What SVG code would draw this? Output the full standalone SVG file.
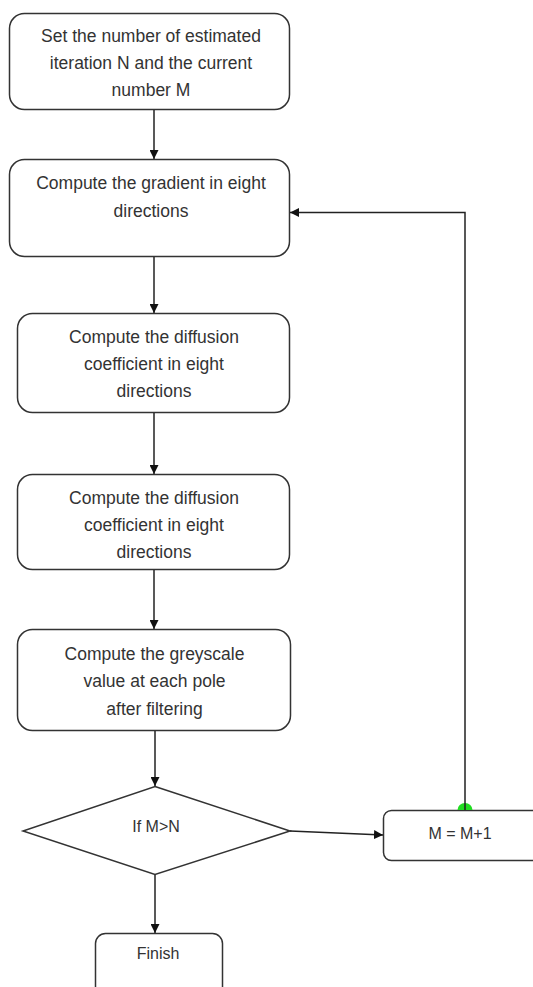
<svg xmlns="http://www.w3.org/2000/svg" width="533" height="987" viewBox="0 0 533 987">
<style>
.box{fill:#fff;stroke:#333;stroke-width:1.5}
.t{font-family:"Liberation Sans",Arial,sans-serif;font-size:17.5px;fill:#333;text-anchor:middle}
.s{font-family:"Liberation Sans",Arial,sans-serif;font-size:16px;fill:#333;text-anchor:middle}
.c{fill:none;stroke:#222;stroke-width:1.5}
</style>
<defs>
<marker id="ah" viewBox="0 0 10 10" refX="10" refY="5" markerWidth="9" markerHeight="9" markerUnits="userSpaceOnUse" orient="auto">
<path d="M0,0 L10,5 L0,10 z" fill="#111"/>
</marker>
</defs>
<rect width="533" height="987" fill="#fff"/>
<g id="n1">
<rect class="box" x="9.5" y="13.5" width="280" height="96" rx="15"/>
<text class="t" x="151" y="42">Set the number of estimated</text>
<text class="t" x="151" y="69">iteration N and the current</text>
<text class="t" x="151" y="96">number M</text>
</g>
<g id="n2">
<rect class="box" x="9.5" y="159.5" width="280" height="97" rx="15"/>
<text class="t" x="151" y="189">Compute the gradient in eight</text>
<text class="t" x="151" y="217">directions</text>
</g>
<g id="n3">
<rect class="box" x="17.5" y="313.5" width="272" height="99" rx="15"/>
<text class="t" x="154" y="343">Compute the diffusion</text>
<text class="t" x="154" y="370">coefficient in eight</text>
<text class="t" x="154" y="397">directions</text>
</g>
<g id="n4">
<rect class="box" x="17.5" y="474.5" width="272" height="95" rx="15"/>
<text class="t" x="154" y="504">Compute the diffusion</text>
<text class="t" x="154" y="531">coefficient in eight</text>
<text class="t" x="154" y="558">directions</text>
</g>
<g id="n5">
<rect class="box" x="17.5" y="629.5" width="273" height="101" rx="15"/>
<text class="t" x="154.5" y="660">Compute the greyscale</text>
<text class="t" x="154.5" y="687">value at each pole</text>
<text class="t" x="154.5" y="715">after filtering</text>
</g>
<g id="n6">
<polygon class="box" points="155,786.5 290,831 155,874.5 23,831"/>
<text class="s" x="156" y="832">If M&gt;N</text>
</g>
<g id="n7">
<rect class="box" x="383.5" y="810.5" width="160" height="50" rx="8"/>
<text class="s" x="460" y="839">M = M+1</text>
</g>
<g id="n8">
<rect class="box" x="95.5" y="933.5" width="127" height="70" rx="10"/>
<text class="s" x="158" y="959">Finish</text>
</g>
<g id="connectors">
<line class="c" x1="154" y1="110" x2="154" y2="159" marker-end="url(#ah)"/>
<line class="c" x1="154" y1="257" x2="154" y2="313" marker-end="url(#ah)"/>
<line class="c" x1="154" y1="413" x2="154" y2="474" marker-end="url(#ah)"/>
<line class="c" x1="154" y1="570" x2="154" y2="629" marker-end="url(#ah)"/>
<line class="c" x1="155" y1="731" x2="155" y2="786" marker-end="url(#ah)"/>
<line class="c" x1="155" y1="875" x2="155" y2="933" marker-end="url(#ah)"/>
<line class="c" x1="290" y1="831" x2="383" y2="835" marker-end="url(#ah)"/>
<path d="M457.5,810 A7.5,7 0 0 1 472.5,810 z" fill="#22dd22"/>
<polyline class="c" points="465,810 465,212.5 290,212.5" marker-end="url(#ah)"/>
</g>
</svg>
